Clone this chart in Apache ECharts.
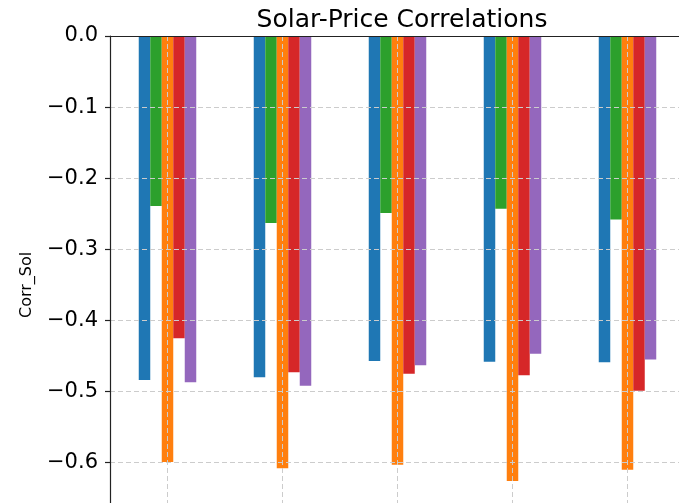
<!DOCTYPE html>
<html>
<head>
<meta charset="utf-8">
<script src="https://cdn.jsdelivr.net/npm/echarts@6/dist/echarts.min.js"></script>
<style>
  html, body { margin: 0; padding: 0; background: #fff; }
  #chart { width: 679px; height: 503px; }
</style>
</head>
<body>
<div id="chart"></div>
<script>
// Correlation of solar output with price, five groups of five bars
const categories = ['G1', 'G2', 'G3', 'G4', 'G5'];
const seriesNames = ['Series 1', 'Series 2', 'Series 3', 'Series 4', 'Series 5'];
const seriesColors = ['#1f77b4', '#2ca02c', '#ff7f0e', '#d62728', '#9467bd'];

const blueValues   = [-0.484, -0.480, -0.457, -0.458, -0.459];
const greenValues  = [-0.239, -0.263, -0.249, -0.243, -0.258];
const orangeValues = [-0.599, -0.608, -0.603, -0.626, -0.610];
const redValues    = [-0.425, -0.473, -0.475, -0.477, -0.499];
const purpleValues = [-0.487, -0.492, -0.463, -0.447, -0.455];

const yTicks = { min: -0.7, max: 0, interval: 0.1 };

const allValues = [blueValues, greenValues, orangeValues, redValues, purpleValues];
const FONT = 'DejaVu Sans';
const gridColor = '#cccccc';

const chart = echarts.init(document.getElementById('chart'), null, { renderer: 'canvas' });

const series = allValues.map((vals, i) => ({
  name: seriesNames[i],
  type: 'bar',
  data: vals,
  barWidth: 11.5,
  barGap: '0%',
  itemStyle: { color: seriesColors[i] },
  z: 2
}));

chart.setOption({
  animation: false,
  backgroundColor: '#ffffff',
  title: {
    text: 'Solar-Price Correlations',
    left: 397,
    textAlign: 'center',
    top: 3,
    textStyle: { fontFamily: FONT, fontSize: 25, fontWeight: 'normal', color: '#000' }
  },
  // the plot area runs past the right and bottom edges of the canvas
  grid: { left: 110, right: -6, top: 36, bottom: -30.7, outerBoundsMode: 'none', containLabel: false },
  xAxis: {
    type: 'category',
    data: categories,
    z: 5,
    axisLine: { show: true, onZero: true, lineStyle: { color: '#222', width: 1.2 } },
    axisTick: { show: false },
    axisLabel: { show: false },
    splitLine: {
      show: true,
      alignWithLabel: true,
      lineStyle: { color: gridColor, type: [5, 3], width: 1 }
    }
  },
  yAxis: {
    type: 'value',
    min: yTicks.min,
    max: yTicks.max,
    interval: yTicks.interval,
    z: 5,
    name: 'Corr_Sol',
    nameLocation: 'middle',
    nameRotate: 90,
    nameGap: 75,
    nameTextStyle: { fontFamily: FONT, fontSize: 16, color: '#000' },
    axisLine: { show: true, lineStyle: { color: '#222', width: 1.2 } },
    axisTick: { show: true, length: 5, lineStyle: { color: '#222', width: 1.2 } },
    axisLabel: {
      fontFamily: FONT, fontSize: 21, color: '#000', margin: 12,
      formatter: v => (v < -1e-9 ? '\u2212' : '') + Math.abs(v).toFixed(1)
    },
    splitLine: { show: true, lineStyle: { color: gridColor, type: [5, 3], width: 1 } }
  },
  series: series
});
</script>
</body>
</html>
